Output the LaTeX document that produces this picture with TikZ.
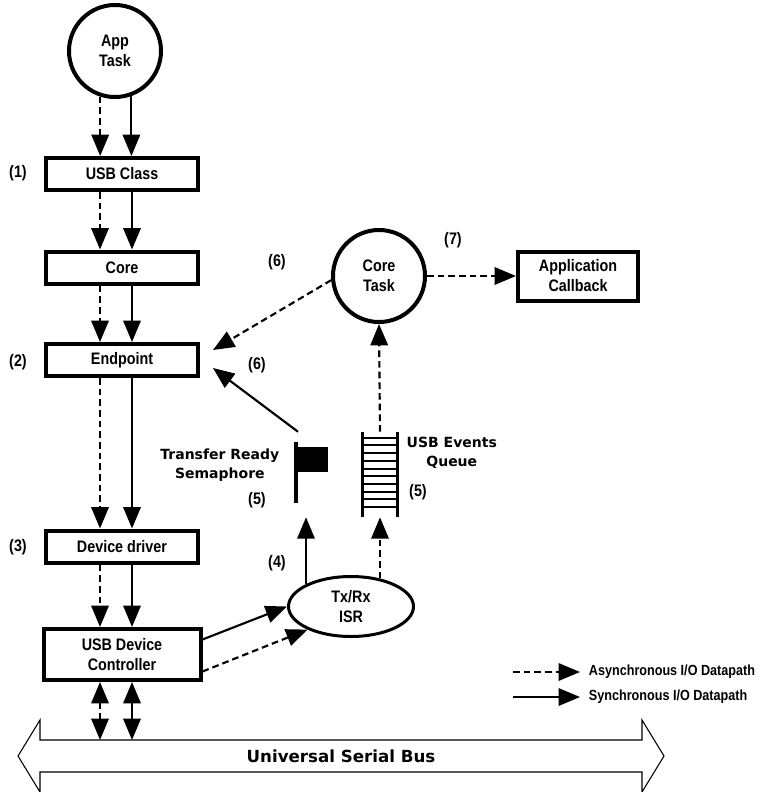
\documentclass[tikz,border=0pt]{standalone}
\usepackage{fontspec}
\setmainfont{Liberation Sans}
\newfontfamily\narrowfont[FakeStretch=0.86]{Liberation Sans}
\newfontfamily\widefont{DejaVu Sans}
\usetikzlibrary{arrows.meta,shapes.geometric,positioning}

\begin{document}
\begin{tikzpicture}[x=0.75pt,y=-0.75pt,
  >={Triangle[length=16pt,width=13pt]},
  every node/.style={font=\narrowfont\bfseries\fontsize{12.5}{15}\selectfont,align=center},
  layer/.style={draw,line width=3pt,minimum width=114pt,minimum height=24pt,inner sep=1pt},
  task/.style={draw,circle,line width=3pt,minimum size=69pt,inner sep=0pt},
  sync/.style={->,line width=1.6pt},
  async/.style={sync,dash pattern=on 5pt off 3pt},
  both/.style={<->},
  num/.style={inner sep=0pt},
  wide/.style={font=\widefont\bfseries\fontsize{10.5}{14}\selectfont}]
  \useasboundingbox (0,0) rectangle (771,792);

  \node[task] (app) at (115,51) {App\\Task};
  \node[layer] (class) at (122,174) {USB Class};
  \node[layer] (core) at (122,267.5) {Core};
  \node[layer] (ep) at (122,360) {Endpoint};
  \node[layer] (drv) at (122,546.5) {Device driver};
  \node[layer,minimum width=117.75pt,minimum height=38.25pt] (ctrl) at (122,654.5) {USB Device\\Controller};
  \node[task] (coretask) at (379,276) {Core\\Task};
  \node[draw,line width=3pt,minimum width=90pt,minimum height=36.75pt] (cb) at (578,276) {Application\\Callback};
  \node[draw,ellipse,line width=2.25pt,minimum width=93.75pt,minimum height=45pt,inner sep=0pt] (isr) at (351,606.5) {Tx/Rx\\ISR};
  \node[minimum width=25.5pt,minimum height=63.75pt,inner sep=0pt] (queue) at (380,474.5) {};
  \node[minimum width=0pt,minimum height=63.75pt,inner sep=0pt] (sem) at (306,474.5) {};
  \node[wide,anchor=east] (semlbl) at (284,465) {Transfer Ready\\Semaphore};
  \node[wide,anchor=west] (qlbl) at (402,453) {USB Events\\Queue};

  \node[num] (n1) at (18,173) {(1)};
  \node[num] (n2) at (18,362) {(2)};
  \node[num] (n3) at (18,547) {(3)};
  \node[num] (n4) at (277,563) {(4)};
  \node[num] (n5a) at (257,500) {(5)};
  \node[num] (n5b) at (418,492) {(5)};
  \node[num] (n6a) at (277,262) {(6)};
  \node[num] (n6b) at (257,365) {(6)};
  \node[num] (n7) at (453,240) {(7)};

  % flag and queue
  \draw[line width=3pt] ([shift={(-10,10)}]sem.north) -- ([shift={(-10,-14)}]sem.south);
  \fill ([shift={(-10,15)}]sem.north) rectangle ([shift={(22,40)}]sem.north);
  \draw[line width=2.25pt] (queue.north west) -- (queue.south west)
    (queue.north east) -- (queue.south east);
  \foreach \i in {0,...,9}
    \draw[line width=1.5pt] ([shift={(0,6+7.7*\i)}]queue.north west) -- ([shift={(0,6+7.7*\i)}]queue.north east);

  % main datapath
  \draw[async] (app.252) -- (app.252 |- class.north);
  \draw[sync] (app.290) -- (app.290 |- class.north);
  \foreach \a/\b in {class/core,core/ep,ep/drv,drv/ctrl} {
    \draw[async] ([xshift=-16.5pt]\a.south) -- ([xshift=-16.5pt]\b.north);
    \draw[sync] ([xshift=7.5pt]\a.south) -- ([xshift=7.5pt]\b.north);
  }
  \coordinate (bustop) at (341,740);
  \draw[async,both] ([xshift=-16.5pt]ctrl.south) -- ([xshift=-16.5pt]ctrl.south |- bustop);
  \draw[sync,both] ([xshift=7.5pt]ctrl.south) -- ([xshift=7.5pt]ctrl.south |- bustop);

  \draw[sync] ([yshift=11.25pt]ctrl.east) -- (isr.west);
  \draw[async] ([yshift=-12.75pt]ctrl.east) -- (isr.208);
  \draw[sync] (sem.south |- isr.154) -- (sem.south);
  \draw[async] (queue.south |- isr.44) -- (queue.south);
  \draw[async] (queue.north) -- (coretask.south);
  \draw[async] (coretask.east) -- (cb.west);
  \draw[async] (coretask.185) -- ([shift={(13,-10)}]ep.east);
  \draw[sync] ([shift={(-8,0)}]sem.north) -- ([shift={(13,8)}]ep.east);

  % bus
  \draw[line width=0.8pt] (18,756) -- (40,720) -- (40,740) -- (642,740) -- (642,720) -- (664,756)
    -- (642,792) -- (642,772) -- (40,772) -- (40,792) -- cycle;
  \node[font=\widefont\bfseries\fontsize{12.5}{15}\selectfont] (bus) at (341,756) {Universal Serial Bus};

  % legend
  \node[anchor=west,inner sep=2pt,font=\narrowfont\bfseries\fontsize{11}{13}\selectfont] (alg) at (586,672) {Asynchronous I/O Datapath};
  \node[anchor=west,inner sep=2pt,font=\narrowfont\bfseries\fontsize{11}{13}\selectfont] (slg) at (586,697) {Synchronous I/O Datapath};
  \draw[async] ([xshift=-54.75pt]alg.west) -- ([xshift=-4.5pt]alg.west);
  \draw[sync] ([xshift=-54.75pt]slg.west) -- ([xshift=-4.5pt]slg.west);
\end{tikzpicture}
\end{document}
